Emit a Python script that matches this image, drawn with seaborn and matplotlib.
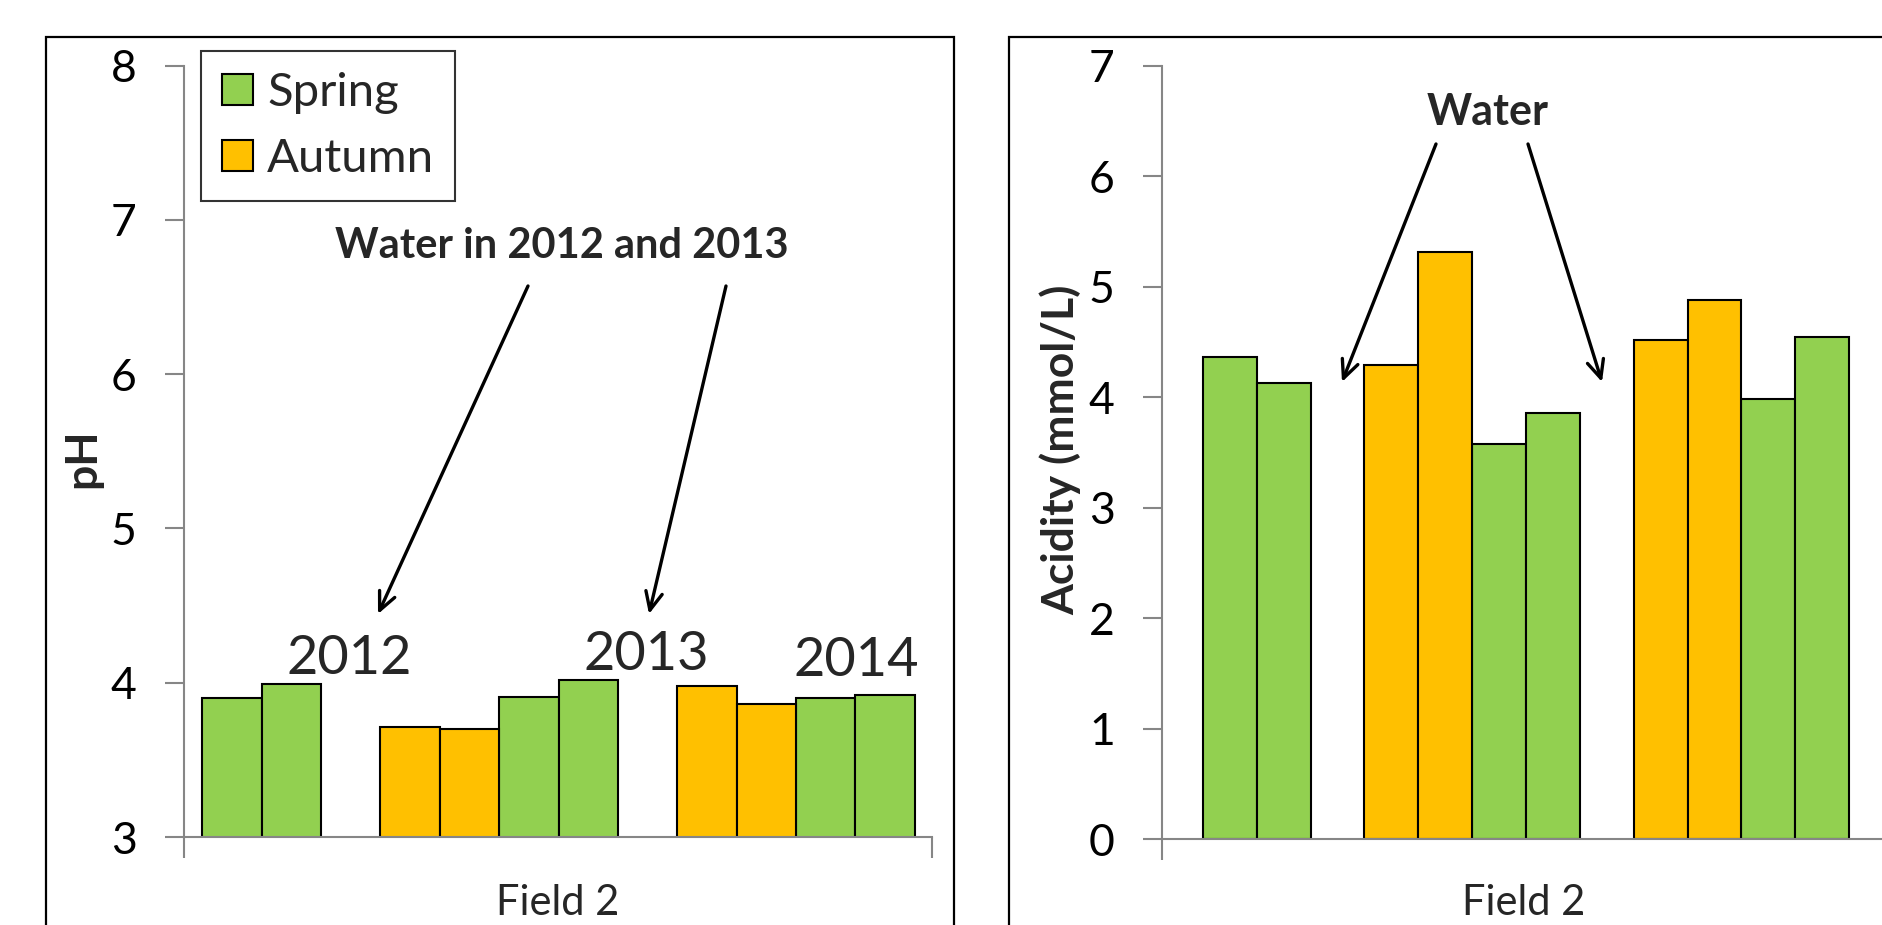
import matplotlib
matplotlib.use("Agg")
import matplotlib.pyplot as plt
import seaborn as sns
import pandas as pd
from matplotlib.patches import Rectangle, Patch, FancyArrowPatch

# bar slots (12 slots, two empty gap slots)
slots = ["s1", "s2", "g1", "s4", "s5", "s6", "s7", "g2", "s9", "s10", "s11", "s12"]
bar_slots = ["s1", "s2", "s4", "s5", "s6", "s7", "s9", "s10", "s11", "s12"]
seasons = ["Spring", "Spring", "Autumn", "Autumn", "Spring", "Spring",
           "Autumn", "Autumn", "Spring", "Spring"]
ph_values = [3.90, 3.99, 3.71, 3.70, 3.91, 4.02, 3.98, 3.86, 3.90, 3.92]
acidity_values = [4.36, 4.13, 4.29, 5.31, 3.58, 3.86, 4.52, 4.88, 3.98, 4.54]
year_labels = ["2012", "2013", "2014"]

GREEN = "#92D050"
ORANGE = "#FFC000"
GRAY = "#868686"
palette = {"Spring": GREEN, "Autumn": ORANGE}

sns.set_theme(style="white")
plt.rcParams["font.family"] = ["Lato", "DejaVu Sans"]

W, H = 1882, 925
fig = plt.figure(figsize=(W / 100, H / 100), dpi=100)


def px(x0, y0, x1, y1):
    # figure pixel box (top-left origin) -> axes rect
    return [x0 / W, 1 - y1 / H, (x1 - x0) / W, (y1 - y0) / H]


# outer frames (run past the bottom of the figure)
for x0, x1 in [(46, 954), (1009, 1900)]:
    fig.patches.append(Rectangle((x0 / W, -0.1), (x1 - x0) / W, 1.1 - 37 / H,
                                 transform=fig.transFigure, fill=False,
                                 edgecolor="black", linewidth=1.6))

ax1 = fig.add_axes(px(184, 65.7, 932, 837))
ax2 = fig.add_axes(px(1162, 65.7, 1890, 839))

df1 = pd.DataFrame({"slot": bar_slots, "value": ph_values, "season": seasons})
df2 = pd.DataFrame({"slot": bar_slots, "value": acidity_values, "season": seasons})

for ax, df in [(ax1, df1), (ax2, df2)]:
    sns.barplot(data=df, x="slot", y="value", hue="season", order=slots,
                palette=palette, saturation=1, dodge=False, width=1.0,
                edgecolor="black", linewidth=1.5, legend=False, ax=ax)
    sns.despine(ax=ax)
    for s in ["left", "bottom"]:
        ax.spines[s].set_color(GRAY)
        ax.spines[s].set_linewidth(1.5)
    ax.set_xlabel("")
    ax.set_ylabel("")
    ax.tick_params(axis="y", direction="out", length=14, width=1.5, color=GRAY,
                   labelsize=32, labelcolor="black", pad=20, left=True)
    ax.tick_params(axis="x", direction="out", length=15, width=1.5, color=GRAY,
                   bottom=True)

ax1.set_xlim(-0.81, 11.79)
ax1.set_xticks([-0.81, 11.79])
ax1.set_xticklabels(["", ""])
ax1.set_ylim(3, 8)
ax1.set_yticks(range(3, 9))

ax2.set_xlim(-1.26, 12.26)
ax2.set_xticks([-1.26])
ax2.set_xticklabels([""])
ax2.set_ylim(0, 7)
ax2.set_yticks(range(0, 8))

# axis titles
fig.text(558 / W, 1 - 903 / H, "Field 2", ha="center", va="center", fontsize=30)
fig.text(1524 / W, 1 - 903 / H, "Field 2", ha="center", va="center", fontsize=30)
fig.text(82 / W, 1 - 458 / H, "pH", ha="center", va="center", fontsize=32,
         fontweight="bold", rotation=90)
fig.text(1060 / W, 1 - 450 / H, "Acidity (mmol/L)", ha="center", va="center",
         fontsize=32, fontweight="bold", rotation=90)

# legend
handles = [Patch(facecolor=palette[s], edgecolor="black", linewidth=1.5, label=s)
           for s in ["Spring", "Autumn"]]
leg = fig.legend(handles=handles, loc="upper left",
                 bbox_to_anchor=(201 / W, 1 - 51 / H), borderaxespad=0,
                 fontsize=34, frameon=True, fancybox=False, handlelength=0.65,
                 handleheight=0.65, handletextpad=0.3, labelspacing=0.5,
                 borderpad=0.45)
leg.get_frame().set_edgecolor("black")
leg.get_frame().set_linewidth(1.5)

# annotations
fig.text(562 / W, 1 - 246 / H, "Water in 2012 and 2013", ha="center", va="center",
         fontsize=30, fontweight="bold")
fig.text(1488 / W, 1 - 112 / H, "Water", ha="center", va="center",
         fontsize=31, fontweight="bold")
arrows = [((528, 286), (378, 614)), ((726, 286), (649, 614)),
          ((1436, 144), (1342, 382)), ((1528, 144), (1602, 382))]
for (xs, ys), (xe, ye) in arrows:
    fig.add_artist(FancyArrowPatch(
        (xs / W, 1 - ys / H), (xe / W, 1 - ye / H), transform=fig.transFigure,
        arrowstyle="->,head_length=13,head_width=6", color="black", linewidth=2.4,
        mutation_scale=1, shrinkA=0, shrinkB=0))

year_pos = [(349, 659), (646, 654), (856, 661)]
for lab, (x, y) in zip(year_labels, year_pos):
    fig.text(x / W, 1 - y / H, lab, ha="center", va="center", fontsize=39)

fig.savefig("out.png", dpi=100)
